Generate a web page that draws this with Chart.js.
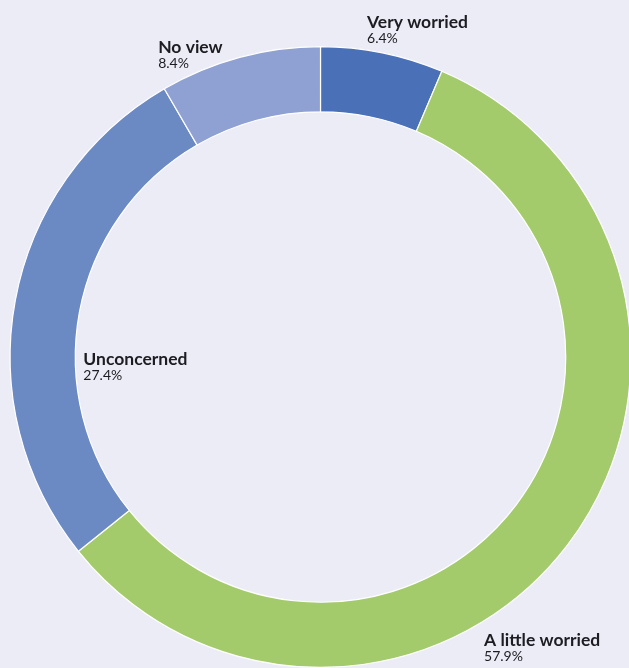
<!DOCTYPE html>
<html>
<head>
<meta charset="utf-8">
<script src="https://cdn.jsdelivr.net/npm/chart.js@4"></script>
<style>
  html, body { margin:0; padding:0; background:#ececf6; overflow:hidden; width:629px; height:668px; }
  #wrap { position:absolute; left:-1px; top:0; width:643px; height:668px; }
</style>
</head>
<body>
<div id="wrap"><canvas id="chart" width="643" height="668"></canvas></div>
<script>
// dados
const categorias = ['Very worried', 'A little worried', 'Unconcerned', 'No view'];
const valores    = [6.4, 57.9, 27.4, 8.4];
const cores      = ['#4a70b7', '#a4cb6b', '#6b8ac4', '#8fa1d2'];

// posição dos rótulos (fração do raio externo, relativo ao centro)
const rotPos = [
  { fx:  0.150, fy: -1.059 },
  { fx:  0.527, fy:  0.931 },
  { fx: -0.764, fy:  0.026 },
  { fx: -0.523, fy: -0.980 }
];

const labelsPlugin = {
  id: 'rotulos',
  afterDatasetsDraw(chart){
    const ctx = chart.ctx;
    const arc = chart.getDatasetMeta(0).data[0];
    if (!arc) return;
    const cx = arc.x, cy = arc.y, R = arc.outerRadius;
    ctx.save();
    ctx.fillStyle = '#1c1c22';
    ctx.textAlign = 'left';
    ctx.textBaseline = 'alphabetic';
    categorias.forEach((nome, i) => {
      const x = cx + rotPos[i].fx * R;
      const y = cy + rotPos[i].fy * R;
      ctx.font = 'bold 17.5px Lato';
      ctx.fillText(nome, x, y);
      ctx.font = '14px Lato';
      ctx.fillText(valores[i].toFixed(1) + '%', x, y + 15);
    });
    ctx.restore();
  }
};

new Chart(document.getElementById('chart'), {
  type: 'doughnut',
  data: {
    labels: categorias,
    datasets: [{
      data: valores,
      backgroundColor: cores,
      borderColor: '#ffffff',
      borderWidth: 1.2,
      hoverOffset: 0
    }]
  },
  options: {
    responsive: false,
    animation: false,
    cutout: '79%',
    layout: { padding: { top: 46, bottom: 0, left: 0, right: 0 } },
    plugins: { legend: { display: false }, tooltip: { enabled: false } }
  },
  plugins: [labelsPlugin]
});
</script>
</body>
</html>
